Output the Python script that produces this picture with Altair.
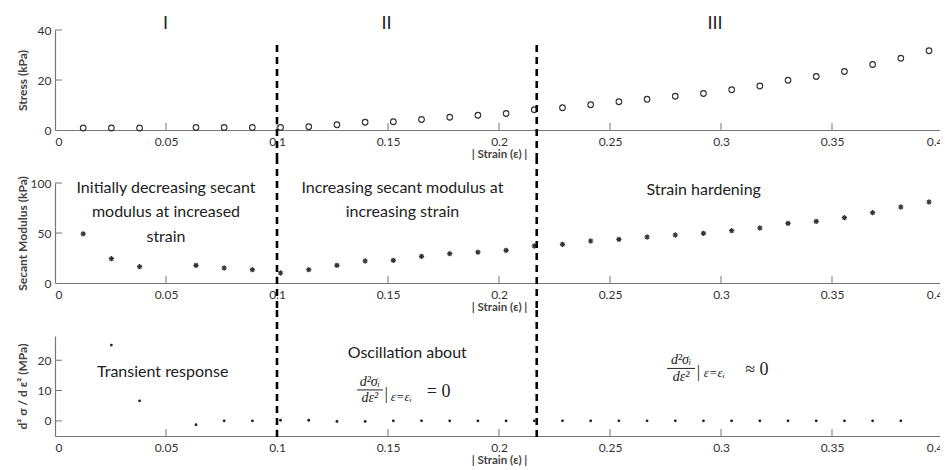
import altair as alt
import pandas as pd

# ---------------- data ----------------
strain = [0.0127, 0.0254, 0.0381, 0.0635, 0.0762, 0.0889, 0.1016, 0.1143, 0.1270, 0.1397,
          0.1524, 0.1651, 0.1778, 0.1905, 0.2032, 0.2159, 0.2286, 0.2413, 0.2540, 0.2667,
          0.2794, 0.2921, 0.3048, 0.3175, 0.3302, 0.3429, 0.3556, 0.3683, 0.3810, 0.3937]
stress_kpa = [0.8, 0.8, 0.8, 1.0, 1.0, 1.0, 1.0, 1.3, 2.1, 3.1,
              3.3, 4.2, 5.1, 5.9, 6.6, 8.1, 8.9, 10.1, 11.3, 12.3,
              13.5, 14.6, 16.1, 17.6, 19.9, 21.4, 23.4, 26.2, 28.7, 31.7]
secant_kpa = [49.2, 24.3, 16.3, 17.6, 15.0, 13.3, 10.0, 13.3, 17.6, 22.0,
              22.6, 26.6, 29.3, 30.8, 32.6, 37.0, 38.6, 42.0, 43.6, 46.0,
              48.0, 49.6, 52.3, 55.0, 59.6, 61.6, 65.3, 70.3, 76.0, 81.0]
d2_strain = [0.0254, 0.0381, 0.0635, 0.0762, 0.0889, 0.1016, 0.1143, 0.1270, 0.1397,
             0.1524, 0.1651, 0.1778, 0.1905, 0.2032, 0.2159, 0.2286, 0.2413, 0.2540, 0.2667,
             0.2794, 0.2921, 0.3048, 0.3175, 0.3302, 0.3429, 0.3556, 0.3683, 0.3810]
d2_mpa = [25.0, 6.6, -1.3, 0.0, 0.0, 0.2, 0.2, -0.2, -0.2,
          0.0, 0.0, 0.0, 0.0, 0.0, 0.0, 0.0, 0.0, 0.0, 0.0,
          0.0, 0.0, 0.0, 0.0, 0.0, 0.0, 0.0, 0.0, 0.0]

x_ticks = [0, 0.05, 0.1, 0.15, 0.2, 0.25, 0.3, 0.35, 0.4]
stress_ticks = [0, 20, 40]
secant_ticks = [0, 50, 100]
d2_ticks = [0, 10, 20]
region_bounds = [0.1, 0.217]

region_names = ["I", "II", "III"]
region_x = [0.0498, 0.1493, 0.2973]

mid_lines = ["Initially decreasing secant", "modulus at increased", "strain",
             "Increasing secant modulus at", "increasing strain", "Strain hardening"]
mid_x = [0.05, 0.05, 0.05, 0.1565, 0.1565, 0.2922]
mid_y = [95.3, 71.0, 45.6, 95.3, 71.0, 92.6]

bot_lines = ["Transient response", "Oscillation about"]
bot_x = [0.0485, 0.1587]
bot_y = [16.1, 22.3]

W, H = 888, 100
FONT = "Lato"
MATH = "Liberation Serif, DejaVu Serif"
INK = "#333333"
AXC = "#777777"

X_SCALE = alt.Scale(domain=[0, 0.4], nice=False, zero=False)
X_AXIS = alt.Axis(values=x_ticks, format="~g", title="| Strain (ε) |",
                  titleFontSize=11.5, titleFontWeight="bold", titleColor="#444444",
                  titlePadding=1, labelPadding=6)


def make_panel(ydomain, yticks, ytitle, point_chart, top_rule, bottom_rule, extras):
    ysc = alt.Scale(domain=ydomain, nice=False, zero=False)
    yax = alt.Axis(values=yticks, title=ytitle, titleFontSize=12, titleFontWeight="bold",
                   titleColor="#444444", titleX=-25.5, labelPadding=4)

    def X():
        return alt.X("s", type="quantitative", scale=X_SCALE, axis=X_AXIS)

    def Y():
        return alt.Y("v", type="quantitative", scale=ysc, axis=yax)

    layers = [point_chart.encode(x=X(), y=Y())]
    layers.append(alt.Chart(pd.DataFrame({"s": x_ticks[1:]})).mark_rule(
        color=AXC, strokeWidth=1).encode(x=X(), y=alt.value(H), y2=alt.value(H - 7)))
    yt = yticks[1:] if ydomain[0] == 0 else yticks
    layers.append(alt.Chart(pd.DataFrame({"v": yt})).mark_rule(
        color=AXC, strokeWidth=1).encode(y=Y(), x=alt.value(0), x2=alt.value(7)))
    for kind, df, opts in extras:
        if kind == "text":
            layers.append(alt.Chart(df).mark_text(
                color="#222222", baseline="middle", **opts).encode(x=X(), y=Y(), text="t:N"))
        else:
            layers.append(alt.Chart(df).mark_rule(color="#222222", strokeWidth=1).encode(
                x=X(), x2="s2", y=Y()))
    layers.append(alt.Chart(pd.DataFrame({"s": region_bounds})).mark_rule(
        color="black", strokeWidth=2.6, strokeDash=[7, 5]).encode(
        x=X(), y=alt.value(top_rule), y2=alt.value(bottom_rule)))
    return alt.layer(*layers).properties(width=W, height=H)


top_df = pd.DataFrame({"s": strain, "v": stress_kpa})
mid_df = pd.DataFrame({"s": strain, "v": secant_kpa})
bot_df = pd.DataFrame({"s": d2_strain, "v": d2_mpa})

circles = alt.Chart(top_df).mark_point(shape="circle", filled=False, size=32,
                                       strokeWidth=1.1, color=INK, opacity=1)
ASTER = "M-1,0L1,0M0,-1L0,1M-0.7,-0.7L0.7,0.7M-0.7,0.7L0.7,-0.7"
stars = alt.Chart(mid_df).mark_point(shape=ASTER, filled=False, size=28,
                                     strokeWidth=1.2, color=INK, opacity=1)
dots = alt.Chart(bot_df).mark_circle(size=8, color="#222222", opacity=1)

region_df = pd.DataFrame({"s": region_x, "v": [42.5, 42.5, 42.5], "t": region_names})
mid_df_t = pd.DataFrame({"s": mid_x, "v": mid_y, "t": mid_lines})
bot_df_t = pd.DataFrame({"s": bot_x, "v": bot_y, "t": bot_lines})

num_df = pd.DataFrame({"s": [0.1418, 0.2820], "v": [12.9, 20.1], "t": ["d²σᵢ", "d²σᵢ"]})
den_df = pd.DataFrame({"s": [0.1418, 0.2820], "v": [7.5, 14.6], "t": ["dε²", "dε²"]})
bar_df = pd.DataFrame({"s": [0.1361, 0.2757], "s2": [0.1477, 0.2883], "v": [10.2, 17.3]})
pipe_df = pd.DataFrame({"s": [0.1492, 0.2899], "v": [8.8, 16.2], "t": ["|", "|"]})
sub_df = pd.DataFrame({"s": [0.1512, 0.2922], "v": [7.9, 15.7], "t": ["ε=εᵢ", "ε=εᵢ"]})
rhs_df = pd.DataFrame({"s": [0.1675, 0.3109], "v": [9.6, 16.8], "t": ["= 0", "≈ 0"]})

top = make_panel([0, 40], stress_ticks, "Stress (kPa)", circles, 15, H + 27,
                 [("text", region_df, dict(fontSize=18, font=FONT))])
mid = make_panel([0, 100], secant_ticks, "Secant Modulus (kPa)", stars, -26, H + 27,
                 [("text", mid_df_t, dict(fontSize=16, font=FONT))])
bot = make_panel([-5, 28], d2_ticks, "d² σ / d ε² (MPa)", dots, -26, H + 2,
                 [("text", bot_df_t, dict(fontSize=16, font=FONT)),
                  ("text", num_df, dict(fontSize=14, font=MATH, fontStyle="italic")),
                  ("text", den_df, dict(fontSize=14, font=MATH, fontStyle="italic")),
                  ("bar", bar_df, {}),
                  ("text", pipe_df, dict(fontSize=17, font=MATH)),
                  ("text", sub_df, dict(fontSize=13, font=MATH, fontStyle="italic", align="left")),
                  ("text", rhs_df, dict(fontSize=18, font=MATH, align="left"))])

chart = alt.vconcat(top, mid, bot, spacing=53, bounds="flush").properties(
    padding={"left": 16, "top": 14, "right": -4, "bottom": 0}
).configure_view(stroke=None).configure_axis(
    grid=False, ticks=False, domainColor=AXC, domainWidth=1.2,
    labelColor="#333333", labelFont=FONT, labelFontSize=12, titleFont=FONT
)

chart.save("out.html", embed_options={"renderer": "svg", "actions": False})
